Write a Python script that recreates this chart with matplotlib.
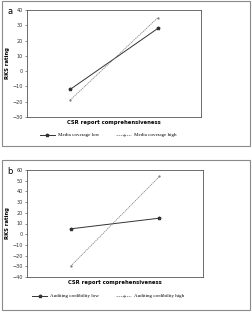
import matplotlib
matplotlib.use("Agg")
import matplotlib.pyplot as plt
from matplotlib.patches import Rectangle

# data
levels = [0, 1]  # CSR report comprehensiveness low / high
media_low = [-12, 28]
media_high = [-19, 35]
audit_low = [5, 15]
audit_high = [-30, 54]

W, H = 252, 312
fig = plt.figure(figsize=(W / 100, H / 100), dpi=100)


def px_axes(x0, y0, x1, y1):
    return fig.add_axes([x0 / W, 1 - y1 / H, (x1 - x0) / W, (y1 - y0) / H])


def panel(box, ax_box, low, high, ylim, yticks, labels, tag, legend_y):
    bx0, by0, bx1, by1 = box
    fig.patches.append(Rectangle((bx0 / W, 1 - by1 / H), (bx1 - bx0) / W, (by1 - by0) / H,
                                 transform=fig.transFigure, fill=False,
                                 edgecolor="#8a8a8a", lw=0.8))
    ax = px_axes(*ax_box)
    ax.plot(levels, low, "-", color="#333333", lw=0.7, marker="*", markersize=2.5,
            label=labels[0])
    ax.plot(levels, high, "--", color="#777777", lw=0.5, dashes=(2, 1), marker=".",
            markersize=1.2, label=labels[1])
    ax.set_xlim(-0.49, 1.49)
    ax.set_ylim(*ylim)
    ax.set_yticks(yticks)
    ax.set_xticks([])
    ax.tick_params(axis="y", labelsize=3.5, length=1.5, width=0.4, pad=1.5, colors="#333333")
    for s in ax.spines.values():
        s.set_linewidth(0.6)
        s.set_color("#555555")
    ax.set_ylabel("RKS rating", fontsize=3.8, fontweight="bold", labelpad=2)
    ax.set_xlabel("CSR report comprehensiveness", fontsize=3.8, fontweight="bold", labelpad=2)
    fig.text(10 / W, 1 - (ax_box[1] + 2) / H, tag, fontsize=6, va="center", ha="center")
    ax.legend(loc="center", bbox_to_anchor=(0.43, 1 - legend_y / H),
              bbox_transform=fig.transFigure, ncol=2, frameon=False,
              prop={"family": "Liberation Serif", "size": 3.6},
              handlelength=3, columnspacing=3.5, handletextpad=0.6)
    return ax


panel((2, 1, 250, 146), (27, 10, 201, 117), media_low, media_high, (-30, 40),
      range(-30, 41, 10), ["Media coverage low", "Media coverage high"], "a", 135)
panel((2, 160, 250, 310), (27, 170, 203, 277), audit_low, audit_high, (-40, 60),
      range(-40, 61, 10), ["Auditing credibility low", "Auditing credibility high"], "b", 296)

fig.savefig("out.png", dpi=100)
